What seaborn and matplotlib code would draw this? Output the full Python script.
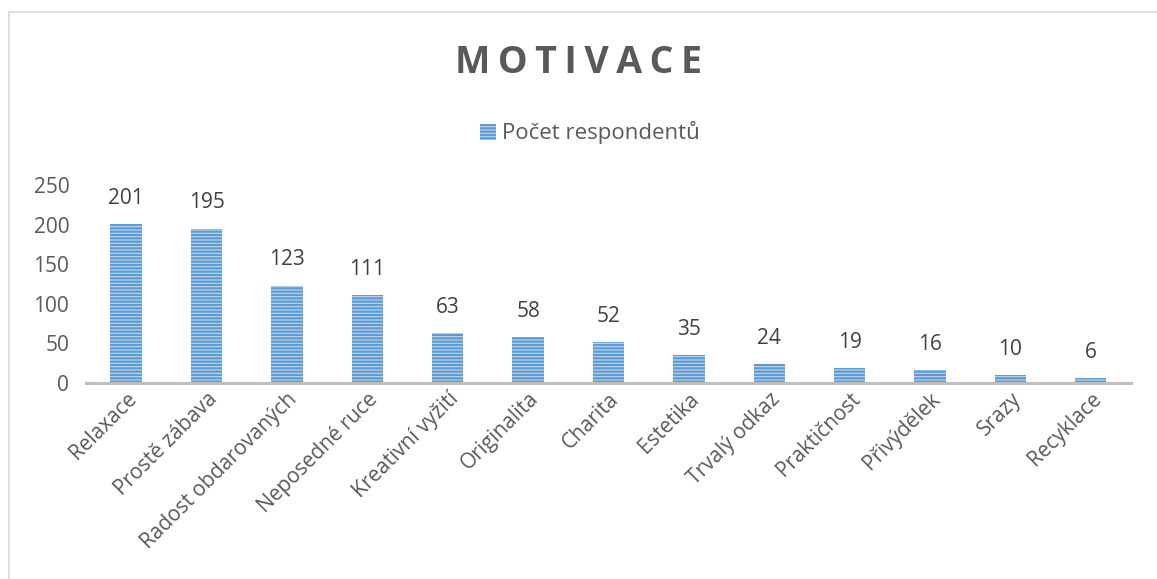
import seaborn as sns
import matplotlib.pyplot as plt
import pandas as pd
from matplotlib.patches import Patch, Rectangle

categories = ["Relaxace", "Prostě zábava", "Radost obdarovaných", "Neposedné ruce",
              "Kreativní vyžití", "Originalita", "Charita", "Estetika", "Trvalý odkaz",
              "Praktičnost", "Přivýdělek", "Srazy", "Recyklace"]
respondents = [201, 195, 123, 111, 63, 58, 52, 35, 24, 19, 16, 10, 6]
y_ticks = [0, 50, 100, 150, 200, 250]

sns.set_theme(style="white")
plt.rcParams["font.family"] = ["Open Sans", "DejaVu Sans"]
plt.rcParams["hatch.linewidth"] = 1.6

df = pd.DataFrame({"motivace": categories, "pocet": respondents})

fig = plt.figure(figsize=(11.57, 5.79), dpi=100)
ax = fig.add_axes([0.0743, 0.3385, 0.9032, 0.342])

# chart border
fig.patches.append(Rectangle((9 / 1157, -0.1), 1.2, 1 - 12 / 579 + 0.1, transform=fig.transFigure,
                             fill=False, edgecolor="#D9D9D9", linewidth=1.2))

sns.barplot(data=df, x="motivace", y="pocet", color="#BDD7EE", width=0.39, ax=ax)
for bar in ax.patches:
    bar.set_hatch("-----")
    bar.set_edgecolor("#5B9BD5")
    bar.set_linewidth(0)

for i, v in enumerate(respondents):
    ax.annotate(str(v), (i, v), xytext=(0, 11), textcoords="offset points",
                ha="center", va="bottom", fontsize=15, color="#404040")

ax.set_ylim(0, 250)
ax.set_xlim(-0.5, len(categories) - 0.5)
ax.set_yticks(y_ticks)
ax.tick_params(axis="y", labelsize=15, labelcolor="#595959", length=0, pad=12)
ax.tick_params(axis="x", labelsize=15, labelcolor="#595959", length=0, pad=4)
ax.set_xticks(range(len(categories)))
ax.set_xticklabels(categories, rotation=45, ha="right", rotation_mode="anchor")
ax.set_xlabel("")
ax.set_ylabel("")
for side in ["left", "right", "top"]:
    ax.spines[side].set_visible(False)
ax.spines["bottom"].set_color("#BFBFBF")
ax.spines["bottom"].set_linewidth(2.2)

fig.text(0.5, 1 - 63 / 579, "\u2009".join("MOTIVACE"), ha="center", va="center", fontsize=27,
         fontweight="bold", color="#595959")

handle = Patch(facecolor="#BDD7EE", edgecolor="#5B9BD5", hatch="-----", linewidth=0)
fig.legend([handle], ["Počet respondentů"], loc="center", bbox_to_anchor=(0.51, 1 - 133 / 579),
           frameon=False, fontsize=16, labelcolor="#595959", handlelength=0.7, handleheight=0.7,
           handletextpad=0.3)

plt.savefig("out.png", dpi=100)
plt.close()
